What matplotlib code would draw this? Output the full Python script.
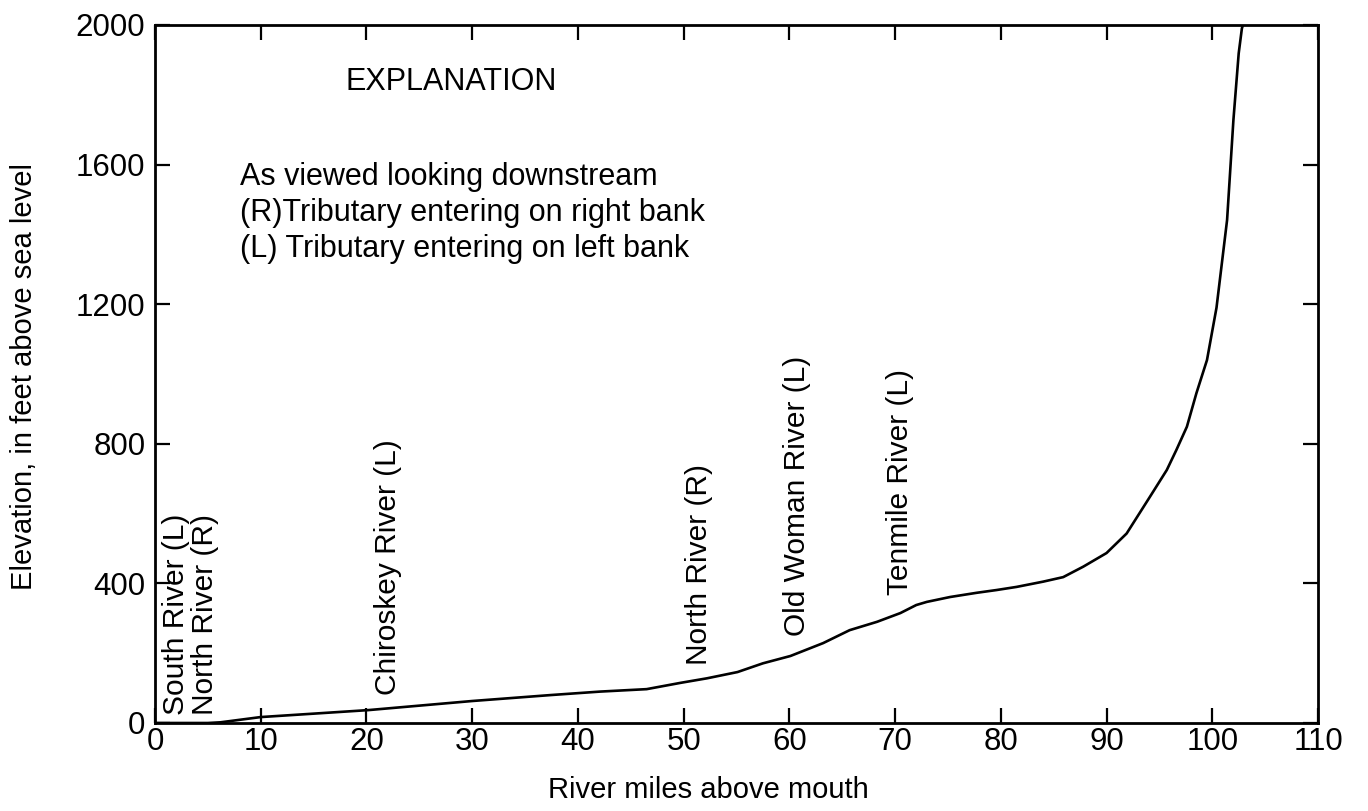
import matplotlib
matplotlib.use("Agg")
import matplotlib.pyplot as plt

plt.rcParams['font.family'] = ['Liberation Sans', 'DejaVu Sans']

# River profile (river miles above mouth, elevation in feet)
miles = [0, 5, 6.2, 10, 20.2, 30, 37.4, 42.1, 46.5, 49.7, 52.2, 55.1, 57.5,
         60.1, 63.2, 65.7, 68.3, 70.5, 72.0, 73.0, 75.2, 77.7, 79.6, 81.5,
         84.0, 85.9, 87.8, 90.0, 91.9, 94.1, 95.7, 96.6, 97.6, 98.5, 99.5,
         100.4, 101.4, 102.0, 102.5, 102.8, 102.9]
elevation = [0, 0, 2, 17, 37, 63, 80, 90, 97, 115, 128, 146, 171,
             192, 229, 266, 290, 315, 338, 347, 361, 373, 381, 390,
             405, 418, 448, 487, 543, 648, 725, 782, 849, 945, 1040,
             1190, 1441, 1728, 1919, 1990, 2000]

# Tributary labels: name, river mile, elevation of label base
trib_names = ["South River (L)", "North River (R)", "Chiroskey River (L)",
              "North River (R)", "Old Woman River (L)", "Tenmile River (L)"]
trib_miles = [1.95, 4.7, 22.0, 51.5, 60.7, 70.5]
trib_base = [22, 22, 80, 166, 249, 367]

x_ticks = [0, 10, 20, 30, 40, 50, 60, 70, 80, 90, 100, 110]
y_ticks = [0, 400, 800, 1200, 1600, 2000]

explanation_title = "EXPLANATION"
explanation_lines = ["As viewed looking downstream",
                     "(R)Tributary entering on right bank",
                     "(L) Tributary entering on left bank"]

W, H = 1368, 811
fig = plt.figure(figsize=(W / 100, H / 100), dpi=100)
ax = fig.add_axes([155 / W, 1 - 723 / H, (1318 - 155) / W, (723 - 25) / H])

ax.plot(miles, elevation, color='black', lw=1.9, solid_joinstyle='round',
        solid_capstyle='round')
ax.set_xlim(0, 110)
ax.set_ylim(0, 2000)
ax.set_xticks(x_ticks)
ax.set_yticks(y_ticks)
ax.tick_params(direction='in', length=11, width=1.6, top=True, right=True,
               labelsize=22.5, colors='black')
ax.tick_params(axis='x', pad=3)
ax.tick_params(axis='y', pad=7)
for s in ax.spines.values():
    s.set_linewidth(2.0)

for name, m, b in zip(trib_names, trib_miles, trib_base):
    ax.text(m, b, name, rotation=90, ha='center', va='bottom', fontsize=21.5)

ax.text(18.0, 1837, explanation_title, ha='left', va='center', fontsize=22)
for i, line in enumerate(explanation_lines):
    ax.text(8.0, 1564 - i * 103, line, ha='left', va='center', fontsize=22)

fig.text(708 / W, 1 - 790 / H, "River miles above mouth", ha='center',
         va='center', fontsize=21)
fig.text(24 / W, 1 - 376 / H, "Elevation, in feet above sea level",
         ha='center', va='center', rotation=90, fontsize=21)

fig.savefig("out.png", dpi=100)
